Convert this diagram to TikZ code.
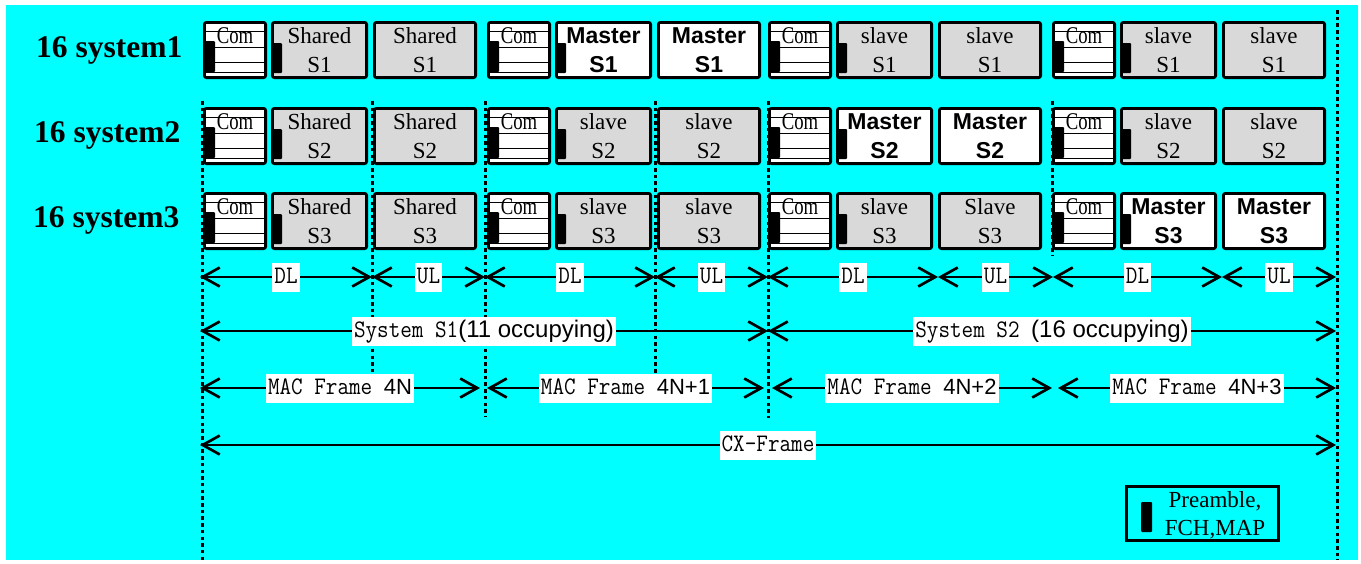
\documentclass[tikz,border=0pt]{standalone}
\usepackage{graphicx}
\usepackage{fontspec}
\setmainfont{Liberation Serif}
\setsansfont{Liberation Sans}
\usetikzlibrary{arrows.meta}
\definecolor{bgcyan}{RGB}{0,255,255}
\definecolor{slotgray}{RGB}{217,217,217}

\newcommand\comslot[3]{% #1 name, #2 left, #3 top
  \node[combox] (#1) at (#2+32,#3+29) {};
  \foreach \dy in {10.5,26.5,41.5,51.5}
    \draw[line width=1.4pt] (#2+2,#3+\dy) -- (#2+62,#3+\dy);
  \fill[rounded corners=1pt] (#2+1,#3+20) rectangle (#2+12,#3+51);
  \node[comtext] (#1-t) at (#2+32,#3+22) {\scalebox{0.78}[1]{Com}};
}
\newcommand\slotgroup[7]{% #1 prefix, #2 left, #3 top, #4 style A, #5 text A, #6 style B, #7 text B
  \comslot{#1c}{#2}{#3}
  \node[slotbox,boxA,#4] (#1a) at (#2+116.5,#3+29) {#5};
  \fill[rounded corners=1pt] (#2+69,#3+22) rectangle (#2+79,#3+52);
  \node[slotbox,boxB,#6] (#1b) at (#2+222,#3+29) {#7};
}
\newcommand\monotxt[1]{\scalebox{1}[1.12]{\ttfamily\fontsize{22.5}{24}\selectfont #1}}
\newcommand\sanstxt[2]{{\sffamily\fontsize{#1}{24}\selectfont #2}}

\begin{document}
\begin{tikzpicture}[x=1pt,y=-1pt,
  combox/.style={draw, fill=white, line width=2.8pt, rounded corners=2pt, inner sep=0pt,
    minimum width=61.2pt, minimum height=55.2pt},
  comtext/.style={anchor=base, inner sep=0pt, font=\fontsize{24}{24}\selectfont},
  slotbox/.style={draw, line width=2.8pt, rounded corners=2pt, inner sep=0pt,
    minimum height=55.2pt, align=center},
  boxA/.style={minimum width=94.2pt},
  boxB/.style={minimum width=101.2pt},
  gslot/.style={fill=slotgray, font=\fontsize{23}{29}\selectfont},
  mslot/.style={fill=white, font=\sffamily\bfseries\fontsize{23}{29}\selectfont},
  rowlabel/.style={anchor=base west, inner sep=0pt, font=\bfseries\fontsize{31.5}{31.5}\selectfont},
  vdot/.style={line width=3pt, dash pattern=on 3.5pt off 3.2pt},
  dimarrow/.style={line width=2.7pt,
    {Straight Barb[length=17pt,width=19pt]}-{Straight Barb[length=17pt,width=19pt]}},
  lbl/.style={fill=white, inner sep=2pt, text height=19pt, text depth=6pt},
]
\useasboundingbox (0,0) rectangle (1361,563);
\fill[bgcyan] (6,5) rectangle (1358,560);

% vertical dotted guides
\coordinate (v0t) at (202,101);  \coordinate (v0b) at (202,560);
\coordinate (v1t) at (372,101);  \coordinate (v1b) at (372,372);
\coordinate (v2t) at (485,101);  \coordinate (v2b) at (485,416);
\coordinate (v3t) at (655,101);  \coordinate (v3b) at (655,395);
\coordinate (v4t) at (768,101);  \coordinate (v4b) at (768,418);
\coordinate (v5t) at (1052,101); \coordinate (v5b) at (1052,256);
\coordinate (v6t) at (1337,10);  \coordinate (v6b) at (1337,560);
\foreach \i in {0,...,6} \draw[vdot] (v\i t) -- (v\i b);

% row labels
\node[rowlabel] (lab1) at (36,57) {16 system1};
\node[rowlabel] (lab2) at (34,142) {16 system2};
\node[rowlabel] (lab3) at (33,227) {16 system3};

% row 1
\slotgroup{r1g1}{203}{21}{gslot}{Shared\\S1}{gslot}{Shared\\S1}
\slotgroup{r1g2}{487}{21}{mslot}{Master\\S1}{mslot}{Master\\S1}
\slotgroup{r1g3}{768}{21}{gslot}{slave\\S1}{gslot}{slave\\S1}
\slotgroup{r1g4}{1052}{21}{gslot}{slave\\S1}{gslot}{slave\\S1}
% row 2
\slotgroup{r2g1}{203}{107}{gslot}{Shared\\S2}{gslot}{Shared\\S2}
\slotgroup{r2g2}{487}{107}{gslot}{slave\\S2}{gslot}{slave\\S2}
\slotgroup{r2g3}{768}{107}{mslot}{Master\\S2}{mslot}{Master\\S2}
\slotgroup{r2g4}{1052}{107}{gslot}{slave\\S2}{gslot}{slave\\S2}
% row 3
\slotgroup{r3g1}{203}{192}{gslot}{Shared\\S3}{gslot}{Shared\\S3}
\slotgroup{r3g2}{487}{192}{gslot}{slave\\S3}{gslot}{slave\\S3}
\slotgroup{r3g3}{768}{192}{gslot}{slave\\S3}{gslot}{Slave\\S3}
\slotgroup{r3g4}{1052}{192}{mslot}{Master\\S3}{mslot}{Master\\S3}

% DL / UL row
\coordinate (d0) at (200,277);  \coordinate (d1) at (372,277);
\coordinate (d2) at (485,277);  \coordinate (d3) at (655,277);
\coordinate (d4) at (768,277);  \coordinate (d5) at (938,277);
\coordinate (d6) at (1053,277); \coordinate (d7) at (1222,277);
\coordinate (d8) at (1336,277);
\draw[dimarrow] (d0) -- node[lbl] (dl1) {\monotxt{DL}} (d1);
\draw[dimarrow] (d1) -- node[lbl] (ul1) {\monotxt{UL}} (d2);
\draw[dimarrow] (d2) -- node[lbl] (dl2) {\monotxt{DL}} (d3);
\draw[dimarrow] (d3) -- node[lbl] (ul2) {\monotxt{UL}} (d4);
\draw[dimarrow] (d4) -- node[lbl] (dl3) {\monotxt{DL}} (d5);
\draw[dimarrow] (d5) -- node[lbl] (ul3) {\monotxt{UL}} (d6);
\draw[dimarrow] (d6) -- node[lbl] (dl4) {\monotxt{DL}} (d7);
\draw[dimarrow] (d7) -- node[lbl] (ul4) {\monotxt{UL}} (d8);

% system row
\coordinate (s0) at (200,331); \coordinate (s1) at (768,331); \coordinate (s2) at (1336,331);
\draw[dimarrow] (s0) -- node[lbl] (sys1) {\monotxt{System S1}\sanstxt{24}{(11 occupying)}} (s1);
\draw[dimarrow] (s1) -- node[lbl] (sys2) {\monotxt{System S2\ }\sanstxt{24}{(16 occupying)}} (s2);

% MAC frame row
\coordinate (m0) at (200,388);  \coordinate (m1) at (480,388);
\coordinate (m2) at (487,388);  \coordinate (m3) at (764,388);
\coordinate (m4) at (772,388);  \coordinate (m5) at (1052,388);
\coordinate (m6) at (1058,388); \coordinate (m7) at (1336,388);
\draw[dimarrow] (m0) -- node[lbl] (mac0) {\monotxt{MAC Frame\ }\sanstxt{22}{4N}} (m1);
\draw[dimarrow] (m2) -- node[lbl] (mac1) {\monotxt{MAC Frame\ }\sanstxt{22}{4N+1}} (m3);
\draw[dimarrow] (m4) -- node[lbl] (mac2) {\monotxt{MAC Frame\ }\sanstxt{22}{4N+2}} (m5);
\draw[dimarrow] (m6) -- node[lbl] (mac3) {\monotxt{MAC Frame\ }\sanstxt{22}{4N+3}} (m7);

% CX frame row
\coordinate (c0) at (200,445); \coordinate (c1) at (1336,445);
\draw[dimarrow] (c0) -- node[lbl] (cx) {\monotxt{CX-Frame}} (c1);

% legend
\node[draw, line width=2.8pt, minimum width=152.2pt, minimum height=54.2pt, inner sep=0pt] (legend) at (1202.5,513.5) {};
\fill[rounded corners=1pt] (1141,502) rectangle (1152,532);
\node[align=center, inner sep=0pt, font=\fontsize{23}{28}\selectfont] (legtext) at (1215,515) {Preamble,\\FCH,MAP};
\end{tikzpicture}
\end{document}
